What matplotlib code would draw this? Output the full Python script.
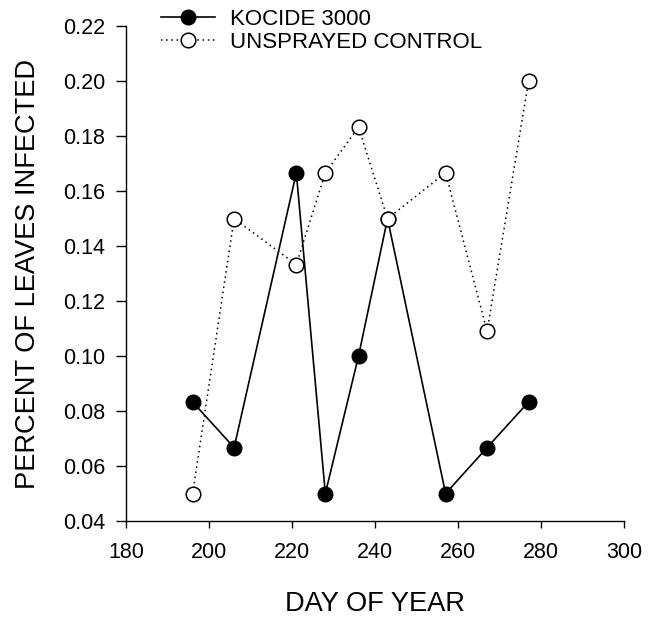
import matplotlib
matplotlib.use("Agg")
import matplotlib.pyplot as plt

plt.rcParams['font.family'] = ['Liberation Sans', 'DejaVu Sans']

# Sampling days and proportion of leaves infected
days = [196, 206, 221, 228, 236, 243, 257, 267, 277]
kocide = [0.0833, 0.0667, 0.1667, 0.05, 0.10, 0.15, 0.05, 0.0667, 0.0833]
control = [0.05, 0.15, 0.1333, 0.1667, 0.1833, 0.15, 0.1667, 0.109, 0.20]

x_ticks = [180, 200, 220, 240, 260, 280, 300]
y_ticks = [0.04, 0.06, 0.08, 0.10, 0.12, 0.14, 0.16, 0.18, 0.20, 0.22]

fig = plt.figure(figsize=(6.54, 6.17), dpi=100)
ax = fig.add_axes([0.1931, 0.1556, 0.954 - 0.1931, 0.9574 - 0.1556])

ax.plot(days, kocide, color='black', lw=1.2, marker='o', ms=10.5,
        mfc='black', mec='black', label='KOCIDE 3000', zorder=3)
ax.plot(days, control, color='black', lw=1.1, ls=(0, (1, 2.4)), marker='o',
        ms=10.5, mfc='white', mec='black', mew=1.1,
        label='UNSPRAYED CONTROL', zorder=4)

ax.set_xlim(180, 300)
ax.set_ylim(0.04, 0.22)
ax.set_xticks(x_ticks)
ax.set_yticks(y_ticks)
ax.set_xticklabels([str(t) for t in x_ticks])
ax.set_yticklabels([f"{t:.2f}" for t in y_ticks])

for side in ('top', 'right'):
    ax.spines[side].set_visible(False)
for side in ('left', 'bottom'):
    ax.spines[side].set_linewidth(1.0)

ax.tick_params(axis='x', direction='out', length=5, width=1.0,
               labelsize=15.5, pad=10)
ax.tick_params(axis='y', direction='out', length=7, width=1.0,
               labelsize=15.5, pad=8)

ax.set_xlabel('DAY OF YEAR', fontsize=19.6, labelpad=20)
ax.set_ylabel('PERCENT OF LEAVES INFECTED', fontsize=19.6, labelpad=16)

leg = ax.legend(loc='upper left', bbox_to_anchor=(161 / 654, 1 - 9 / 617),
                bbox_transform=fig.transFigure, frameon=False, fontsize=16,
                borderpad=0, borderaxespad=0, handlelength=2.43,
                handletextpad=0.68, labelspacing=0.1)

fig.savefig('out.png', dpi=100)
